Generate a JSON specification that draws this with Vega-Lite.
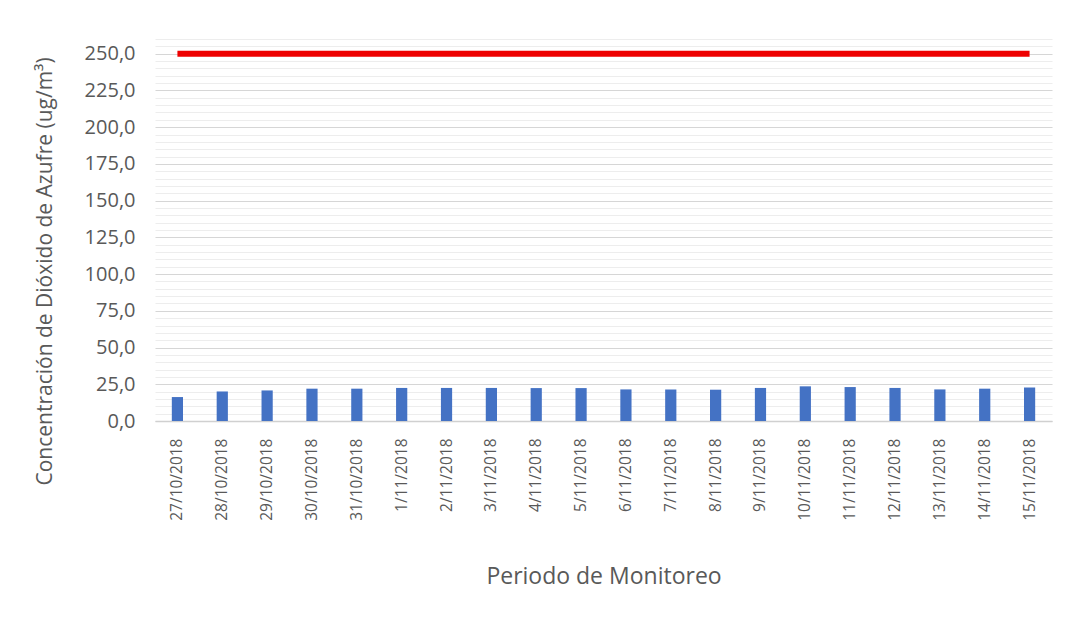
{
  "$schema": "https://vega.github.io/schema/vega-lite/v6.json",
  "width": 897,
  "height": 382,
  "autosize": {"type": "none"},
  "padding": {"left": 155, "top": 39, "right": 19, "bottom": 198},
  "background": "white",
  "config": {
    "view": {"stroke": null},
    "font": "Open Sans",
    "axis": {"labelColor": "#595959", "titleColor": "#595959", "titleFontWeight": "normal"},
    "axisY": {
      "title": "Concentración de Dióxido de Azufre (ug/m³)",
      "titleFontSize": 21,
      "titleX": -100,
      "titleY": 232,
      "labelOverlap": false,
      "labelFontSize": 20,
      "labelPadding": 20,
      "ticks": false,
      "domain": false,
      "grid": true,
      "gridWidth": 1.2
    }
  },
  "data": {
    "values": [
      {"fecha": "27/10/2018", "so2": 16.3, "limite": 250},
      {"fecha": "28/10/2018", "so2": 20.1, "limite": 250},
      {"fecha": "29/10/2018", "so2": 20.8, "limite": 250},
      {"fecha": "30/10/2018", "so2": 22.0, "limite": 250},
      {"fecha": "31/10/2018", "so2": 22.0, "limite": 250},
      {"fecha": "1/11/2018", "so2": 22.5, "limite": 250},
      {"fecha": "2/11/2018", "so2": 22.5, "limite": 250},
      {"fecha": "3/11/2018", "so2": 22.5, "limite": 250},
      {"fecha": "4/11/2018", "so2": 22.4, "limite": 250},
      {"fecha": "5/11/2018", "so2": 22.4, "limite": 250},
      {"fecha": "6/11/2018", "so2": 21.5, "limite": 250},
      {"fecha": "7/11/2018", "so2": 21.5, "limite": 250},
      {"fecha": "8/11/2018", "so2": 21.3, "limite": 250},
      {"fecha": "9/11/2018", "so2": 22.5, "limite": 250},
      {"fecha": "10/11/2018", "so2": 23.6, "limite": 250},
      {"fecha": "11/11/2018", "so2": 23.1, "limite": 250},
      {"fecha": "12/11/2018", "so2": 22.5, "limite": 250},
      {"fecha": "13/11/2018", "so2": 21.5, "limite": 250},
      {"fecha": "14/11/2018", "so2": 22.0, "limite": 250},
      {"fecha": "15/11/2018", "so2": 22.8, "limite": 250}
    ]
  },
  "encoding": {
    "x": {
      "field": "fecha",
      "type": "ordinal",
      "sort": null,
      "scale": {"paddingInner": 0, "paddingOuter": 0},
      "axis": {
        "title": "Periodo de Monitoreo",
        "titleFontSize": 23,
        "titlePadding": 45,
        "labelAngle": -90,
        "labelFontSize": 15.5,
        "labelPadding": 17,
        "ticks": false,
        "domainColor": "#d0d0d0",
        "domainWidth": 1.5,
        "grid": false
      }
    }
  },
  "layer": [
    {
      "mark": {"type": "bar", "color": "#4472C4", "width": {"band": 0.25}},
      "encoding": {
        "y": {
          "field": "so2",
          "type": "quantitative",
          "scale": {"domain": [0, 260], "nice": false},
          "axis": {
            "title": "Concentración de Dióxido de Azufre (ug/m³)",
            "values": [0,5,10,15,20,25,30,35,40,45,50,55,60,65,70,75,80,85,90,95,100,105,110,115,120,125,130,135,140,145,150,155,160,165,170,175,180,185,190,195,200,205,210,215,220,225,230,235,240,245,250,255,260],
            "labelExpr": "datum.value % 25 === 0 && datum.value <= 250 ? replace(format(datum.value, '.1f'), '.', ',') : ''",
            "gridColor": {"condition": {"test": "datum.value % 25 === 0", "value": "#d6d6d6"}, "value": "#ededed"}
          }
        }
      }
    },
    {
      "mark": {"type": "line", "color": "#ee0000", "strokeWidth": 6},
      "encoding": {
        "y": {
          "field": "limite",
          "type": "quantitative",
          "scale": {"domain": [0, 260], "nice": false},
          "axis": {
            "title": "Concentración de Dióxido de Azufre (ug/m³)",
            "values": [0,5,10,15,20,25,30,35,40,45,50,55,60,65,70,75,80,85,90,95,100,105,110,115,120,125,130,135,140,145,150,155,160,165,170,175,180,185,190,195,200,205,210,215,220,225,230,235,240,245,250,255,260],
            "labelExpr": "datum.value % 25 === 0 && datum.value <= 250 ? replace(format(datum.value, '.1f'), '.', ',') : ''",
            "gridColor": {"condition": {"test": "datum.value % 25 === 0", "value": "#d6d6d6"}, "value": "#ededed"}
          }
        }
      }
    }
  ]
}
